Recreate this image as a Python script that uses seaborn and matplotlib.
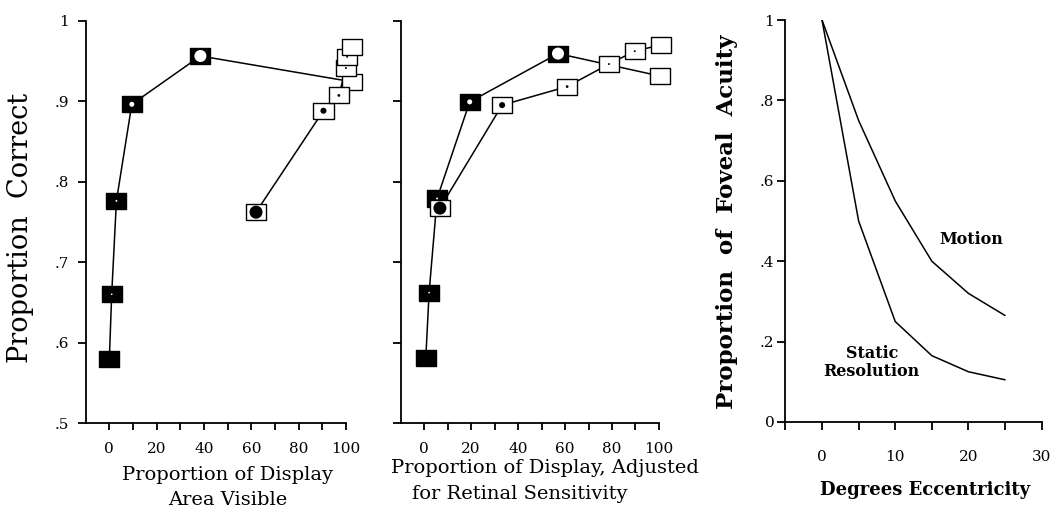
import matplotlib
matplotlib.use("Agg")
import matplotlib.pyplot as plt
import seaborn as sns
import numpy as np

# panel 1: proportion of display area visible
left_win_x = [0, 1, 3, 9.5, 38.5, 102.5]
left_win_y = [0.579, 0.660, 0.776, 0.896, 0.956, 0.924]
left_mask_x = [62, 90.5, 97, 100, 100.5, 102.5]
left_mask_y = [0.762, 0.888, 0.907, 0.941, 0.955, 0.967]

# panel 2: adjusted for retinal sensitivity
mid_win_x = [0.7, 2.1, 5.5, 19.4, 57, 100.6]
mid_win_y = [0.581, 0.662, 0.779, 0.899, 0.959, 0.931]
mid_mask_x = [6.7, 33.2, 60.9, 78.7, 89.7, 101]
mid_mask_y = [0.767, 0.895, 0.918, 0.946, 0.962, 0.970]

# panel 3: acuity vs eccentricity
ecc = [0, 5, 10, 15, 20, 25]
motion = [1.0, 0.75, 0.55, 0.40, 0.32, 0.265]
static = [1.0, 0.50, 0.25, 0.165, 0.125, 0.105]

y_ticks = [0.5, 0.6, 0.7, 0.8, 0.9, 1.0]
y_ticklabels = [".5", ".6", ".7", ".8", ".9", "1"]
x_ticks = list(range(0, 101, 10))
x_ticklabels = ["0", "", "20", "", "40", "", "60", "", "80", "", "100"]
r_yticks = [0, 0.2, 0.4, 0.6, 0.8, 1.0]
r_yticklabels = ["0", ".2", ".4", ".6", ".8", "1"]
r_xticks = [-5, 0, 5, 10, 15, 20, 25, 30]
r_xticklabels = ["", "0", "", "10", "", "20", "", "30"]

# marker styling (face colour of box, inner dot colour, inner dot area)
win_face = ["black", "black", "black", "black", "black", "white"]
win_dot = [0, 1.5, 2, 13, 75, 0]
mask_face = ["white"] * 6
mask_dot = [88, 19, 4, 2, 2, 0]

sns.set_style("ticks")
plt.rcParams["font.family"] = ["DejaVu Serif"]
plt.rcParams["text.color"] = "black"
plt.rcParams["xtick.color"] = "black"
plt.rcParams["ytick.color"] = "black"

fig = plt.figure(figsize=(10.55, 5.12), dpi=100)
ax1 = fig.add_axes([0.0812, 0.1738, 0.2467, 0.786])
ax2 = fig.add_axes([0.3798, 0.1738, 0.2448, 0.786])
ax3 = fig.add_axes([0.7445, 0.1758, 0.2428, 0.785])

box = [(-1, -0.8), (1, -0.8), (1, 0.8), (-1, 0.8), (-1, -0.8)]


def draw_series(ax, xs, ys, faces, dots, dot_color):
    sns.lineplot(x=xs, y=ys, ax=ax, sort=False, estimator=None,
                 color="black", lw=1.1, zorder=1)
    ax.scatter(xs, ys, s=210, marker=box, c=faces, edgecolors="black",
               linewidths=1.0, zorder=3, clip_on=False)
    ax.scatter(xs, ys, s=dots, marker="o", c=dot_color, linewidths=0,
               zorder=4, clip_on=False)


for ax, wx, wy, mx, my in [(ax1, left_win_x, left_win_y, left_mask_x, left_mask_y),
                           (ax2, mid_win_x, mid_win_y, mid_mask_x, mid_mask_y)]:
    draw_series(ax, wx, wy, win_face, win_dot, "white")
    draw_series(ax, mx, my, mask_face, mask_dot, "black")
    ax.set_xlim(-10, 100)
    ax.set_ylim(0.5, 1.0)
    ax.set_xticks(x_ticks)
    ax.set_xticklabels(x_ticklabels, fontsize=11)
    ax.set_yticks(y_ticks)
    ax.tick_params(axis="x", length=5, width=1.3, pad=9)
    ax.tick_params(axis="y", length=6, width=1.3, pad=6)
    ax.set_xlabel("")
    ax.set_ylabel("")

ax1.set_yticklabels(y_ticklabels, fontsize=11)
ax2.set_yticklabels([])

sns.lineplot(x=ecc, y=motion, ax=ax3, color="black", lw=1.1)
sns.lineplot(x=ecc, y=static, ax=ax3, color="black", lw=1.1)
ax3.set_xlim(-5, 30)
ax3.set_ylim(0, 1.0)
ax3.set_xticks(r_xticks)
ax3.set_xticklabels(r_xticklabels, fontsize=11)
ax3.set_yticks(r_yticks)
ax3.set_yticklabels(r_yticklabels, fontsize=11)
ax3.tick_params(axis="x", length=6, width=1.3, pad=14)
ax3.tick_params(axis="y", length=6, width=1.3, pad=2)
ax3.text(20.4, 0.455, "Motion", fontsize=11.5, fontweight="bold", ha="center", va="center")
ax3.text(6.8, 0.148, "Static\nResolution", fontsize=11.5, fontweight="bold",
         ha="center", va="center", linespacing=1.1)

for ax in (ax1, ax2, ax3):
    sns.despine(ax=ax)
    for s in ("left", "bottom"):
        ax.spines[s].set_linewidth(1.3)
        ax.spines[s].set_color("black")

fig.text(0.019, 0.555, "Proportion  Correct", rotation=90, fontsize=19.5,
         ha="center", va="center")
fig.text(0.216, 0.072, "Proportion of Display", fontsize=14, ha="center", va="center")
fig.text(0.216, 0.023, "Area Visible", fontsize=14, ha="center", va="center")
fig.text(0.5166, 0.085, "Proportion of Display, Adjusted", fontsize=14,
         ha="center", va="center")
fig.text(0.493, 0.036, "for Retinal Sensitivity", fontsize=14, ha="center", va="center")
fig.text(0.877, 0.043, "Degrees Eccentricity", fontsize=13, fontweight="bold",
         ha="center", va="center")
fig.text(0.689, 0.566, "Proportion  of  Foveal  Acuity", rotation=90, fontsize=16.5,
         fontweight="bold", ha="center", va="center")

fig.savefig("out.png", dpi=100)
